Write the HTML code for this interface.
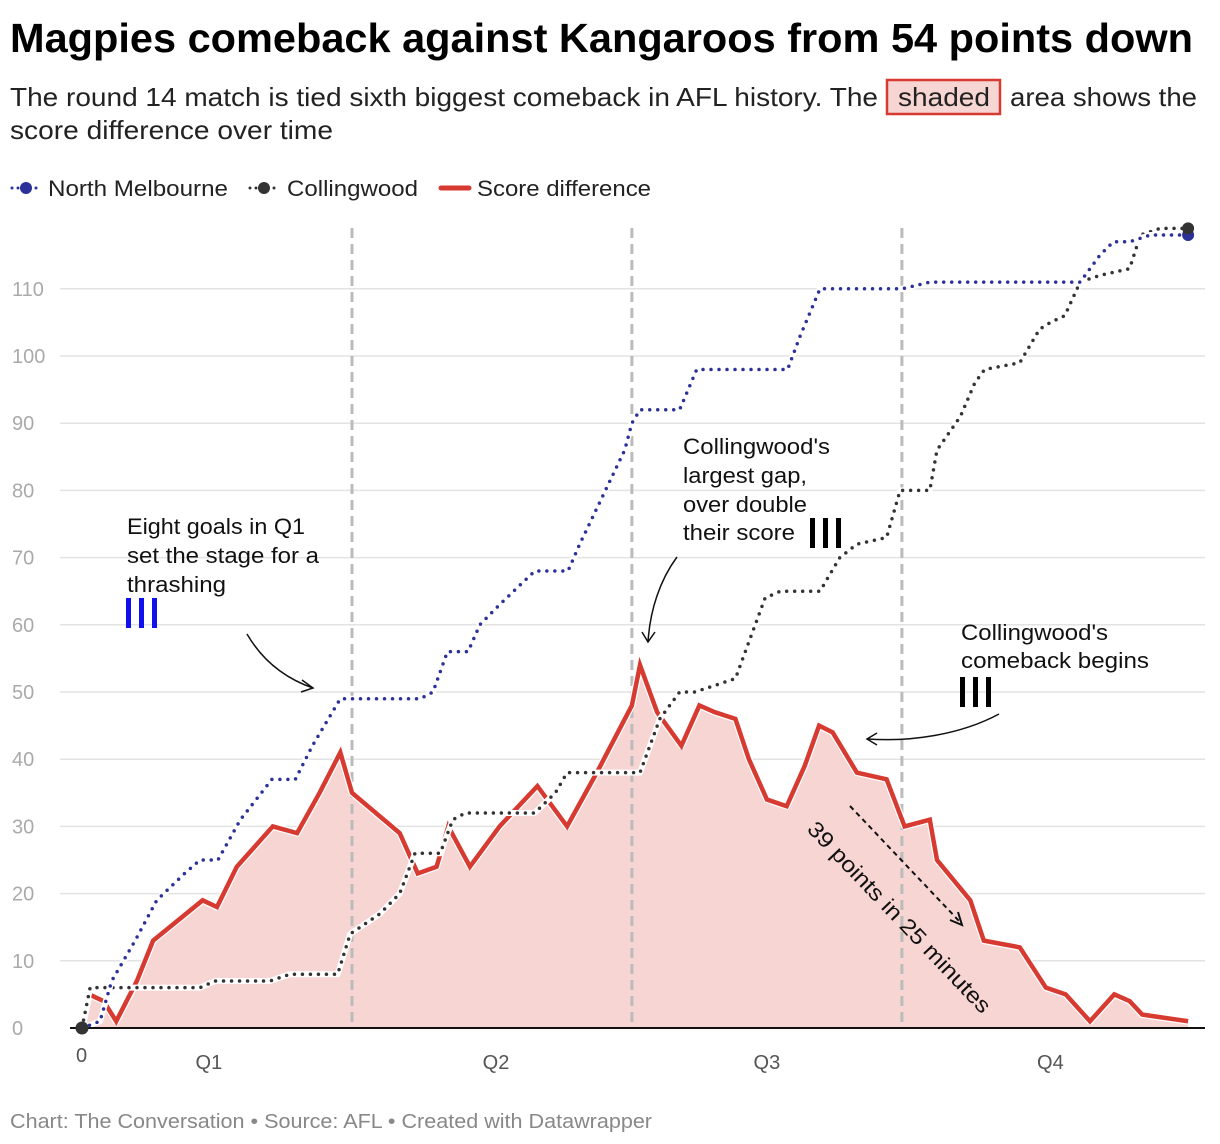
<!DOCTYPE html>
<html><head><meta charset="utf-8"><style>
body{margin:0;background:#fff;font-family:"Liberation Sans",sans-serif;}
#wrap{position:relative;width:1220px;height:1144px;overflow:hidden;}
</style></head><body>
<div id="wrap">
<svg id="chart" width="1220" height="1144" style="position:absolute;left:0;top:0">
<text x="10" y="52" font-size="41" font-weight="bold" fill="#000" textLength="1183" lengthAdjust="spacingAndGlyphs">Magpies comeback against Kangaroos from 54 points down</text>
<rect x="887" y="80" width="113" height="34" fill="#f6d5d3" stroke="#d73a30" stroke-width="2.5"/>
<g font-size="26" fill="#222">
<text x="10" y="106" textLength="868" lengthAdjust="spacingAndGlyphs">The round 14 match is tied sixth biggest comeback in AFL history. The</text>
<text x="898" y="106" textLength="92" lengthAdjust="spacingAndGlyphs">shaded</text>
<text x="1010" y="106" textLength="187" lengthAdjust="spacingAndGlyphs">area shows the</text>
<text x="10" y="139" textLength="323" lengthAdjust="spacingAndGlyphs">score difference over time</text>
</g>
<g font-size="22" fill="#222">
<line x1="12" y1="188" x2="40" y2="188" stroke="#2b3199" stroke-width="3" stroke-dasharray="0 6" stroke-linecap="round"/><circle cx="26" cy="188" r="6" fill="#2b3199"/>
<text x="48" y="196" textLength="180" lengthAdjust="spacingAndGlyphs">North Melbourne</text>
<line x1="250" y1="188" x2="278" y2="188" stroke="#333" stroke-width="3" stroke-dasharray="0 6" stroke-linecap="round"/><circle cx="264" cy="188" r="6" fill="#333"/>
<text x="287" y="196" textLength="131" lengthAdjust="spacingAndGlyphs">Collingwood</text>
<line x1="441" y1="188" x2="469" y2="188" stroke="#d73a30" stroke-width="5" stroke-linecap="round"/>
<text x="477" y="196" textLength="174" lengthAdjust="spacingAndGlyphs">Score difference</text>
</g>
<g id="grid"></g>
<g id="marks"></g>
<g id="annot" font-size="22" fill="#111">
<g>
<text x="127" y="534" textLength="178" lengthAdjust="spacingAndGlyphs">Eight goals in Q1</text>
<text x="127" y="563" textLength="192" lengthAdjust="spacingAndGlyphs">set the stage for a</text>
<text x="127" y="592" textLength="99" lengthAdjust="spacingAndGlyphs">thrashing</text></g>
<g fill="#1010ee"><rect x="126" y="598" width="5" height="30"/><rect x="139" y="598" width="5" height="30"/><rect x="152" y="598" width="5" height="30"/></g>
<path d="M247,634 C265,665 290,680 313,688" fill="none" stroke="#111" stroke-width="1.5"/>
<path d="M302,680 L313,688 L301,692" fill="none" stroke="#111" stroke-width="1.5"/>
<g>
<text x="683" y="454" textLength="147" lengthAdjust="spacingAndGlyphs">Collingwood's</text>
<text x="683" y="483" textLength="124" lengthAdjust="spacingAndGlyphs">largest gap,</text>
<text x="683" y="512" textLength="124" lengthAdjust="spacingAndGlyphs">over double</text>
<text x="683" y="540" textLength="112" lengthAdjust="spacingAndGlyphs">their score</text></g>
<g fill="#000"><rect x="810" y="518" width="5" height="30"/><rect x="823" y="518" width="5" height="30"/><rect x="836" y="518" width="5" height="30"/></g>
<path d="M677,557 C660,580 650,610 648,642" fill="none" stroke="#111" stroke-width="1.5"/>
<path d="M642,632 L648,642 L655,632" fill="none" stroke="#111" stroke-width="1.5"/>
<g>
<text x="961" y="640" textLength="147" lengthAdjust="spacingAndGlyphs">Collingwood's</text>
<text x="961" y="668" textLength="188" lengthAdjust="spacingAndGlyphs">comeback begins</text></g>
<g fill="#000"><rect x="960" y="677" width="5" height="30"/><rect x="973" y="677" width="5" height="30"/><rect x="986" y="677" width="5" height="30"/></g>
<path d="M999,714 C960,735 910,742 867,739" fill="none" stroke="#111" stroke-width="1.5"/>
<path d="M877,733 L867,739 L877,745" fill="none" stroke="#111" stroke-width="1.5"/>
<path d="M850,806 L960,922" fill="none" stroke="#111" stroke-width="2" stroke-dasharray="5 4"/>
<path d="M950,920 L962,925 L958,912" fill="none" stroke="#111" stroke-width="2"/>
<text x="0" y="0" font-size="22" textLength="255" lengthAdjust="spacingAndGlyphs" transform="translate(806,830) rotate(46.4)">39 points in 25 minutes</text>
</g>
<text x="10" y="1128" font-size="20" fill="#888" textLength="642" lengthAdjust="spacingAndGlyphs">Chart: The Conversation • Source: AFL • Created with Datawrapper</text>
</svg>
</div>
<script>
const yTicks=[0,10,20,30,40,50,60,70,80,90,100,110];
const quarterEnds=[30,61.1,91.1];
const quarterLabels=["Q1","Q2","Q3","Q4"];
const quarterLabelTimes=[14.1,46,76.1,107.6];
const diffT=[0,0.8,2.4,3.8,6.1,7.9,13.4,15,17.2,21.2,23.9,26.4,28.7,30,35.3,37.3,39.4,40.7,43.1,46.4,50.6,53.9,57.2,61.1,62,63.9,66.6,68.6,70.3,72.6,74.1,76.1,78.3,80.3,81.9,83.4,86.1,89.4,91.4,94.2,95,98.7,100.2,104.2,107.1,109.3,112,114.7,116.4,117.8,122.9];
const diffV=[0,5,4,1,7,13,19,18,24,30,29,35,41,35,29,23,24,30,24,30,36,30,38,48,54,47,42,48,47,46,40,34,33,39,45,44,38,37,30,31,25,19,13,12,6,5,1,5,4,2,1];
const northT=[0,2,3.3,5.9,8.3,11.4,13.1,15.1,17.6,21.1,23.7,25.6,28.7,30,37.6,39,40.6,42.9,44.2,46.4,50.3,54,55.3,60.3,61.1,62,66.4,68.3,72.6,78.4,79.8,82,85.3,91.1,94.2,110.9,113.1,114.6,116.4,118.7,122.9];
const northV=[0,1,7,13,19,23,25,25,31,37,37,42,49,49,49,50,56,56,60,63,68,68,72,86,90,92,92,98,98,98,103,110,110,110,111,111,115,117,117,118,118];
const collT=[0,0.9,13.1,14.8,20.9,23.1,28.4,29.8,33.1,35.3,37,39.8,41.2,42.6,50.3,52.6,53.9,62,64.2,66.4,68.1,72.6,74.8,75.9,77.6,82,84.2,86.1,89.4,90.9,94.2,95,97.6,99.2,100.3,104.2,106.4,107.6,109.2,110.9,113.1,116.4,117.6,119.8,122.9];
const collV=[0,6,6,7,7,8,8,14,17,20,26,26,31,32,32,35,38,38,46,50,50,52,60,64,65,65,70,72,73,80,80,86,91,96,98,99,104,105,106,111,112,113,118,119,119];

const NS="http://www.w3.org/2000/svg";
const X=t=>82+t*9;
const Y=v=>1028-v*6.72;
function mk(tag,attrs,parent){const e=document.createElementNS(NS,tag);for(const k in attrs)e.setAttribute(k,attrs[k]);parent.appendChild(e);return e;}
const grid=document.getElementById('grid'),marks=document.getElementById('marks');
yTicks.forEach(v=>{
  if(v>0){const l=mk('line',{x1:60,x2:1205,y1:Y(v),y2:Y(v),stroke:'#e3e3e3','stroke-width':1.5},grid);
  
  }
  const t=mk('text',{x:12,y:Y(v)+7,'font-size':20,fill:'#aaa'},grid);t.textContent=v;
  
  
});
const z=mk('text',{x:76,y:1062,'font-size':20,fill:'#555'},grid);z.textContent='0';


quarterLabels.forEach((q,i)=>{const t=mk('text',{x:X(quarterLabelTimes[i]),y:1069,'font-size':20,fill:'#555','text-anchor':'middle'},grid);t.textContent=q;

});
let d='M'+X(diffT[0])+','+Y(0);
diffT.forEach((t,i)=>d+=' L'+X(t)+','+Y(diffV[i]));
d+=' L'+X(diffT[diffT.length-1])+','+Y(0)+'Z';
const area=mk('path',{d:d,fill:'#f6d5d3'},marks);


quarterEnds.forEach((q,i)=>{const l=mk('line',{x1:X(q),x2:X(q),y1:228,y2:1028,stroke:'#bbb','stroke-width':3,'stroke-dasharray':'10 6'},marks);

});
function pts(T,V){return T.map((t,i)=>X(t)+','+Y(V[i])).join(' ');}
function dotted(T,V,col,name){
  mk('polyline',{points:pts(T,V),fill:'none',stroke:'#fff','stroke-width':6,'stroke-linejoin':'round'},marks);
  const p=mk('polyline',{points:pts(T,V),fill:'none',stroke:col,'stroke-width':3.5,'stroke-dasharray':'0 8','stroke-linecap':'round','stroke-linejoin':'round'},marks);
  
  
}
mk('polyline',{points:pts(diffT,diffV),fill:'none',stroke:'#fff','stroke-width':7,'stroke-linejoin':'round'},marks);
const rl=mk('polyline',{points:pts(diffT,diffV),fill:'none',stroke:'#d73a30','stroke-width':4.5,'stroke-linejoin':'miter'},marks);


dotted(collT,collV,'#333','collingwood-line');
dotted(northT,northV,'#2b3199','north-melbourne-line');
const ax=mk('line',{x1:70,x2:1205,y1:1028,y2:1028,stroke:'#111','stroke-width':2},marks);


const n=northT.length-1,c=collT.length-1;
const e1=mk('circle',{cx:X(northT[n]),cy:Y(northV[n]),r:6,fill:'#2b3199'},marks);


const e2=mk('circle',{cx:X(collT[c]),cy:Y(collV[c]),r:6,fill:'#333'},marks);


const s=mk('circle',{cx:X(0),cy:Y(0),r:6.5,fill:'#333'},marks);


</script>
</body></html>
